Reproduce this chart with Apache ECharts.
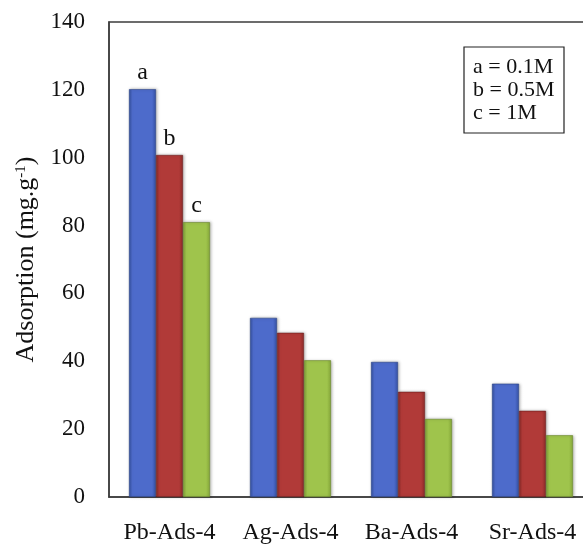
<!DOCTYPE html>
<html>
<head>
<meta charset="utf-8">
<style>
  html, body { margin: 0; padding: 0; background: #ffffff; }
  #chart { width: 583px; height: 545px; }
</style>
<script src="https://cdn.jsdelivr.net/npm/echarts@6/dist/echarts.min.js"></script>
</head>
<body>
<div id="chart"></div>
<script>
// Adsorbents on the category axis
const categories = ['Pb-Ads-4', 'Ag-Ads-4', 'Ba-Ads-4', 'Sr-Ads-4'];
// Adsorption (mg/g) at each concentration
const seriesA = [120.2, 52.8, 39.8, 33.4]; // a = 0.1M
const seriesB = [100.8, 48.4, 31.0, 25.4]; // b = 0.5M
const seriesC = [81.0, 40.3, 23.0, 18.2];  // c = 1M
const seriesNames = ['a', 'b', 'c'];
const legendLines = ['a = 0.1M', 'b = 0.5M', 'c = 1M'];
const yTicks = { min: 0, max: 140, interval: 20 };

const FONT = "'Liberation Serif', 'Times New Roman', serif";

// horizontal gradient giving each bar a bevelled, rounded look
function barFill(edgeL, mid, edgeR) {
  return new echarts.graphic.LinearGradient(0, 0, 1, 0, [
    { offset: 0, color: edgeL },
    { offset: 0.12, color: mid },
    { offset: 0.85, color: mid },
    { offset: 1, color: edgeR }
  ]);
}

const fills = [
  barFill('#34509f', '#4d6bcb', '#3652a6'),
  barFill('#872826', '#b13a38', '#8f2c2a'),
  barFill('#7f9f36', '#9fc44c', '#86a83a')
];
const outlines = ['#2c4488', '#6e2020', '#6a862c'];

function makeSeries(name, values, idx) {
  return {
    name: name,
    type: 'bar',
    barWidth: 27,
    barGap: '0%',
    itemStyle: {
      color: fills[idx],
      borderColor: outlines[idx],
      borderWidth: 0.6,
      shadowColor: 'rgba(0,0,0,0.25)',
      shadowBlur: 3,
      shadowOffsetX: 1
    },
    data: values.map((v, i) => i === 0 ? {
      value: v,
      label: {
        show: true,
        position: 'top',
        distance: 4,
        formatter: name,
        fontFamily: FONT,
        fontSize: 24,
        color: '#111'
      }
    } : v)
  };
}

const chart = echarts.init(document.getElementById('chart'), null, { renderer: 'canvas' });

// the plot frame runs past the right edge of the canvas
chart.setOption({
  backgroundColor: '#ffffff',
  animation: false,
  grid: {
    left: 109, top: 22, width: 484, height: 475,
    show: true, borderColor: '#3c3c3c', borderWidth: 1.5,
    containLabel: false,
    outerBoundsMode: 'none'
  },
  xAxis: {
    type: 'category',
    data: categories,
    axisLine: { show: true, lineStyle: { color: '#3c3c3c', width: 1.5 } },
    axisTick: { show: false },
    axisLabel: { interval: 0, fontFamily: FONT, fontSize: 24, color: '#111', margin: 24 },
    splitLine: { show: false }
  },
  yAxis: {
    type: 'value',
    min: yTicks.min, max: yTicks.max, interval: yTicks.interval,
    axisLine: { show: true, lineStyle: { color: '#3c3c3c', width: 1.5 } },
    axisTick: { show: false },
    splitLine: { show: false },
    axisLabel: { fontFamily: FONT, fontSize: 23, color: '#111', margin: 24 },
    name: 'Adsorption (mg.g{sup|-1})',
    nameLocation: 'middle',
    nameRotate: 90,
    nameGap: 68,
    nameTextStyle: {
      fontFamily: FONT, fontSize: 26, color: '#111',
      rich: {
        sup: { fontFamily: FONT, fontSize: 15, color: '#111', verticalAlign: 'top', padding: [0, 0, 10, 0] }
      }
    }
  },
  graphic: [
    {
      type: 'rect',
      shape: { x: 464, y: 47, width: 100, height: 86 },
      style: { fill: '#ffffff', stroke: '#222', lineWidth: 1.2 },
      z: 10
    },
    ...legendLines.map((t, i) => ({
      type: 'text',
      x: 473,
      y: 67 + i * 23,
      style: {
        text: t,
        fontFamily: FONT,
        fontSize: 22,
        fill: '#111',
        verticalAlign: 'middle'
      },
      z: 11
    }))
  ],
  series: [
    makeSeries(seriesNames[0], seriesA, 0),
    makeSeries(seriesNames[1], seriesB, 1),
    makeSeries(seriesNames[2], seriesC, 2)
  ]
});
</script>
</body>
</html>
